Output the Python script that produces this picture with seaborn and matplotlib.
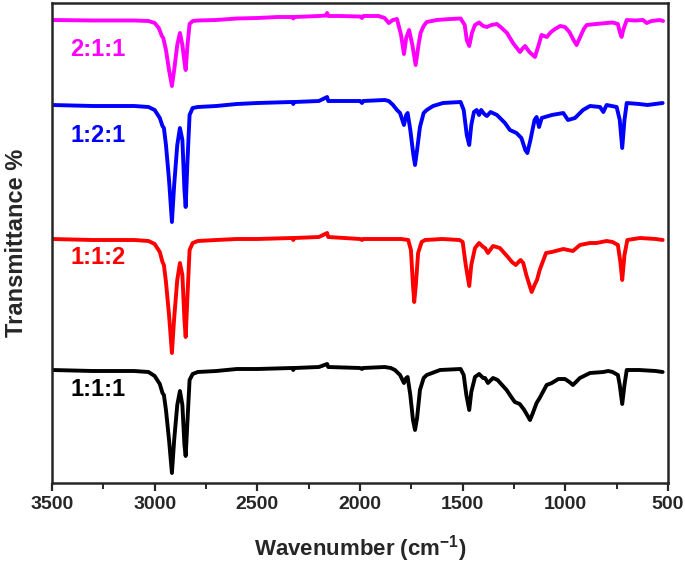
import numpy as np
import pandas as pd
import matplotlib
matplotlib.use("Agg")
import matplotlib.pyplot as plt
from matplotlib.ticker import MultipleLocator
import seaborn as sns

# FTIR spectra: (wavenumber, stacked transmittance, arb. units)
wn_211 = [3500, 3300, 3100, 3030, 3000, 2980, 2965, 2958, 2945, 2930, 2916, 2905, 2890, 2877,
          2865, 2855, 2849, 2840, 2830, 2815, 2790, 2700, 2600, 2500, 2400, 2330, 2325, 2320,
          2200, 2165, 2160, 2155, 2100, 2000, 1990, 1985, 1910, 1880, 1860, 1840, 1820, 1800,
          1786, 1775, 1761, 1745, 1729, 1715, 1705, 1690, 1675, 1626, 1560, 1510, 1490, 1480,
          1468, 1455, 1440, 1420, 1400, 1382, 1360, 1333, 1310, 1284, 1255, 1221, 1210, 1196,
          1175, 1148, 1130, 1116, 1090, 1070, 1050, 1025, 1002, 980, 960, 945, 930, 910, 896,
          850, 799, 770, 744, 735, 726, 718, 701, 660, 622, 604, 580, 540, 524]
t_211 = [20, 20.5, 20.5, 21, 23, 28, 36, 38, 50, 70, 86, 70, 45, 33,
         45, 62, 70, 45, 24, 21, 20.5, 20, 18.5, 18, 17, 17, 18.5, 17,
         16, 15.5, 13, 16, 16, 16.5, 18, 16, 16, 18, 23, 20, 19, 35,
         54, 38, 30, 45, 65, 45, 33, 26, 22, 20, 19, 18.5, 25, 40,
         46, 33, 25, 22.5, 26, 27, 25, 24, 28, 33, 43, 52, 49, 46,
         52, 57, 45, 35, 37, 32, 29, 26, 27, 32, 40, 45, 38, 29, 25,
         24, 23, 22.5, 24, 32, 37, 30, 20, 20.5, 20, 23, 21, 20, 21]

wn_121 = [3500, 3300, 3100, 3030, 3000, 2975, 2962, 2955, 2945, 2930, 2916, 2905, 2890, 2877,
          2865, 2855, 2849, 2840, 2830, 2815, 2790, 2700, 2600, 2500, 2330, 2325, 2320, 2200,
          2160, 2155, 2000, 1990, 1985, 1880, 1860, 1839, 1820, 1805, 1786, 1775, 1768, 1755,
          1740, 1732, 1722, 1708, 1690, 1675, 1644, 1596, 1510, 1495, 1480, 1468, 1458, 1445,
          1432, 1420, 1410, 1395, 1382, 1364, 1333, 1294, 1270, 1238, 1214, 1195, 1185, 1170,
          1150, 1140, 1128, 1115, 1099, 1066, 1010, 987, 953, 914, 880, 831, 815, 799, 750,
          735, 723, 712, 701, 640, 600, 526]
t_121 = [105, 106, 106, 107, 110, 118, 126, 128, 145, 180, 222, 185, 145, 128,
         140, 190, 207, 160, 115, 108, 107, 106, 104, 103, 102, 104, 102, 101,
         97, 101, 101, 103, 101, 100, 101, 105, 110, 113, 125, 115, 113, 130,
         155, 165, 150, 127, 113, 110, 106, 103, 102, 110, 135, 145, 125, 112,
         110, 115, 110, 114, 116, 112, 115, 123, 130, 133, 138, 150, 153, 140,
         120, 117, 127, 118, 117, 115, 113, 120, 118, 110, 106, 107, 112, 105, 107,
         120, 148, 120, 103, 104, 105, 103]

wn_112 = [3500, 3300, 3100, 3030, 3000, 2975, 2962, 2955, 2945, 2930, 2916, 2905, 2890, 2877,
          2865, 2855, 2849, 2840, 2830, 2815, 2790, 2700, 2600, 2500, 2330, 2325, 2320, 2200,
          2160, 2155, 2000, 1990, 1985, 1800, 1765, 1752, 1742, 1736, 1728, 1717, 1700, 1683,
          1600, 1515, 1500, 1485, 1468, 1458, 1440, 1420, 1400, 1391, 1377, 1352, 1319, 1280,
          1260, 1241, 1228, 1218, 1205, 1190, 1164, 1150, 1138, 1125, 1094, 1066, 1010, 963,
          929, 880, 848, 799, 770, 744, 732, 723, 712, 698, 636, 560, 526]
t_112 = [239, 240, 240, 241, 244, 252, 262, 265, 282, 315, 353, 318, 280, 263,
         275, 320, 337, 295, 250, 243, 241, 240, 239, 239, 238, 240, 238, 237,
         233, 237, 239, 240, 239, 239, 240, 250, 285, 302, 285, 253, 242, 240,
         239, 240, 242, 265, 286, 265, 248, 243, 247, 248, 253, 246, 248, 257,
         262, 265, 262, 260, 263, 275, 292, 285, 280, 270, 253, 252, 249, 251,
         245, 243, 243, 241, 242, 245, 262, 280, 255, 240, 238, 239, 240]

wn_111 = [3500, 3300, 3100, 3030, 3000, 2975, 2962, 2955, 2945, 2930, 2916, 2905, 2890, 2877,
          2865, 2855, 2849, 2840, 2830, 2815, 2790, 2700, 2600, 2500, 2330, 2325, 2320, 2200,
          2160, 2155, 2000, 1990, 1985, 1880, 1850, 1830, 1805, 1786, 1775, 1768, 1755, 1742,
          1732, 1722, 1708, 1690, 1675, 1610, 1510, 1495, 1482, 1468, 1458, 1440, 1420, 1400,
          1391, 1377, 1352, 1330, 1286, 1260, 1246, 1222, 1200, 1172, 1160, 1140, 1125, 1091,
          1066, 1034, 1002, 980, 963, 929, 880, 815, 791, 770, 744, 735, 723, 712, 701, 640,
          560, 526]
t_111 = [370, 371, 371, 372, 376, 384, 393, 395, 410, 440, 473, 440, 405, 391,
         405, 445, 456, 420, 380, 374, 372, 371, 369, 369, 368, 370, 368, 367,
         364, 367, 368, 369, 368, 367, 368, 370, 375, 383, 378, 377, 395, 420,
         430, 418, 390, 378, 375, 370, 369, 375, 395, 410, 392, 377, 374, 378,
         378, 383, 378, 380, 390, 398, 402, 404, 410, 420, 414, 403, 398, 385,
         383, 379, 379, 382, 385, 378, 373, 372, 371, 372, 375, 385, 404, 385, 370, 370,
         371, 372]

names = ["2:1:1", "1:2:1", "1:1:2", "1:1:1"]
colors = ["#FF00FF", "#0000FF", "#FF0000", "#000000"]
label_y = [50, 136, 258, 389]  # label heights, same pixel-like units as spectra

frames = []
for name, w, t in zip(names, [wn_211, wn_121, wn_112, wn_111], [t_211, t_121, t_112, t_111]):
    frames.append(pd.DataFrame({"wavenumber": w, "depth": t, "sample": name}))
df = pd.concat(frames, ignore_index=True)
df["signal"] = 483 - df["depth"]

sns.set_style("ticks")
plt.rcParams["font.family"] = ["Liberation Sans", "DejaVu Sans"]
plt.rcParams["mathtext.fontset"] = "custom"
plt.rcParams["mathtext.rm"] = "Liberation Sans:bold"
plt.rcParams["mathtext.bf"] = "Liberation Sans:bold"

fig, ax = plt.subplots(figsize=(6.85, 5.67), dpi=100)
fig.subplots_adjust(left=52 / 685, right=668 / 685, top=1 - 3 / 567, bottom=1 - 483 / 567)

sns.lineplot(data=df, x="wavenumber", y="signal", hue="sample", palette=colors,
             hue_order=names, linewidth=2.8, legend=False, ax=ax, sort=False, estimator=None)

for name, c, ly in zip(names, colors, label_y):
    ax.text(3412, 483 - ly, name, color=c, fontsize=17, fontweight="bold", va="center", ha="left")

ax.set_xlim(3500, 500)
ax.set_ylim(0, 480)
ax.set_yticks([])
ax.xaxis.set_major_locator(MultipleLocator(500))
ax.xaxis.set_minor_locator(MultipleLocator(250))
ax.tick_params(axis="x", which="major", direction="out", length=6, width=1.6, labelsize=14)
ax.tick_params(axis="x", which="minor", direction="out", length=4, width=1.4)
for lbl in ax.get_xticklabels():
    lbl.set_fontweight("bold")
for sp in ax.spines.values():
    sp.set_visible(True)
    sp.set_linewidth(1.8)

ax.set_xlabel(r"Wavenumber (cm$^{-1}$)", fontsize=16, fontweight="bold", labelpad=14)
ax.set_ylabel("Transmittance %", fontsize=17, fontweight="bold", labelpad=17)

fig.savefig("out.png", dpi=100)
